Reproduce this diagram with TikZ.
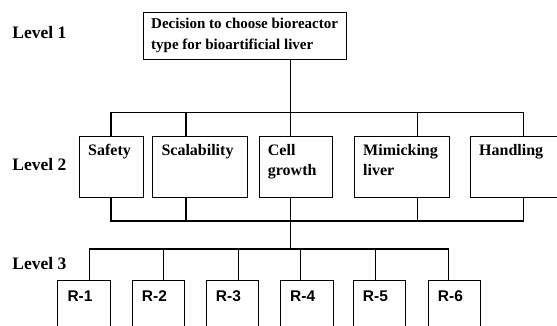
\documentclass[tikz,border=0pt]{standalone}
\usepackage{fontspec}
\setmainfont{Liberation Serif}
\setsansfont{Liberation Sans}
\begin{document}
\begin{tikzpicture}[x=1pt,y=-1pt,
  box/.style={draw, line width=0.9pt, inner sep=0pt, anchor=north west},
  lvlbox/.style={box, minimum height=61pt},
  rbox/.style={box, minimum width=52.5pt, minimum height=60pt},
  wire/.style={line width=1.3pt, line join=miter},
  toptxt/.style={anchor=north west, inner sep=0pt, xshift=8.3pt, yshift=-6.4pt,
    align=left, font=\bfseries\fontsize{15}{21}\selectfont},
  midtxt/.style={anchor=north west, inner sep=0pt, xshift=9pt, yshift=-7.8pt,
    align=left, font=\bfseries\fontsize{16}{20}\selectfont},
  rtxt/.style={anchor=north west, inner sep=0pt, xshift=10pt, yshift=-10.5pt,
    font=\sffamily\bfseries\fontsize{15.5}{18}\selectfont},
  lvl/.style={anchor=base west, inner sep=0pt, font=\bfseries\fontsize{17.5}{20}\selectfont}
]
\clip (0,0) rectangle (557,325);

% level labels
\node[lvl] (l1) at (12.3,38.3) {Level 1};
\node[lvl] (l2) at (12.3,170) {Level 2};
\node[lvl] (l3) at (12.3,269.3) {Level 3};

% level 1: the decision
\node[box, minimum width=203pt, minimum height=47.6pt,
  label={[toptxt]north west:Decision to choose bioreactor\\type for bioartificial liver}]
  (top) at (142.7,11.7) {};

% level 2: criteria
\node[lvlbox, minimum width=64.3pt, label={[midtxt]north west:Safety}] (safety) at (79,136) {};
\node[lvlbox, minimum width=95pt, label={[midtxt]north west:Scalability}] (scal) at (152.3,136) {};
\node[lvlbox, minimum width=73.6pt, label={[midtxt]north west:Cell\\growth}] (cell) at (258.7,136) {};
\node[lvlbox, minimum width=95pt, label={[midtxt]north west:Mimicking\\liver}] (mimic) at (354,136) {};
\node[lvlbox, minimum width=95pt, label={[midtxt]north west:Handling}] (handl) at (470,136) {};

% level 3: reactor alternatives
\node[rbox, label={[rtxt]north west:R-1}] (r1) at (57.3,280) {};
\node[rbox, label={[rtxt]north west:R-2}] (r2) at (131.7,280) {};
\node[rbox, label={[rtxt]north west:R-3}] (r3) at (205.7,280) {};
\node[rbox, label={[rtxt]north west:R-4}] (r4) at (280,280) {};
\node[rbox, label={[rtxt]north west:R-5}] (r5) at (352.7,280) {};
\node[rbox, label={[rtxt]north west:R-6}] (r6) at (427.7,280) {};

% bus heights and drop positions
\coordinate (busTop) at (0,112.3);
\coordinate (busBot) at (0,221);
\coordinate (busR) at (0,249);
\coordinate (pS) at (111,0);
\coordinate (pC) at (186,0);
\coordinate (pM) at (290.7,0);
\coordinate (pL) at (417.7,0);
\coordinate (pH) at (523.5,0);
\coordinate (q1) at (89.3,0);
\coordinate (q2) at (163.3,0);
\coordinate (q3) at (238.3,0);
\coordinate (q4) at (300.7,0);
\coordinate (q5) at (375.7,0);
\coordinate (q6) at (448.3,0);

% decision to criteria
\draw[wire] (top.south -| pM) -- (cell.north -| pM);
\draw[wire] (safety.north -| pS) -- (pS |- busTop) -- (pH |- busTop) -- (handl.north -| pH);
\draw[wire] (scal.north -| pC) -- (pC |- busTop);
\draw[wire] (mimic.north -| pL) -- (pL |- busTop);

% criteria to alternatives
\draw[wire] (safety.south -| pS) -- (pS |- busBot) -- (pH |- busBot) -- (handl.south -| pH);
\draw[wire] (scal.south -| pC) -- (pC |- busBot);
\draw[wire] (mimic.south -| pL) -- (pL |- busBot);
\draw[wire] (cell.south -| pM) -- (pM |- busR);
\draw[wire] (r1.north -| q1) -- (q1 |- busR) -- (q6 |- busR) -- (r6.north -| q6);
\draw[wire] (r2.north -| q2) -- (q2 |- busR);
\draw[wire] (r3.north -| q3) -- (q3 |- busR);
\draw[wire] (r4.north -| q4) -- (q4 |- busR);
\draw[wire] (r5.north -| q5) -- (q5 |- busR);
\end{tikzpicture}
\end{document}
